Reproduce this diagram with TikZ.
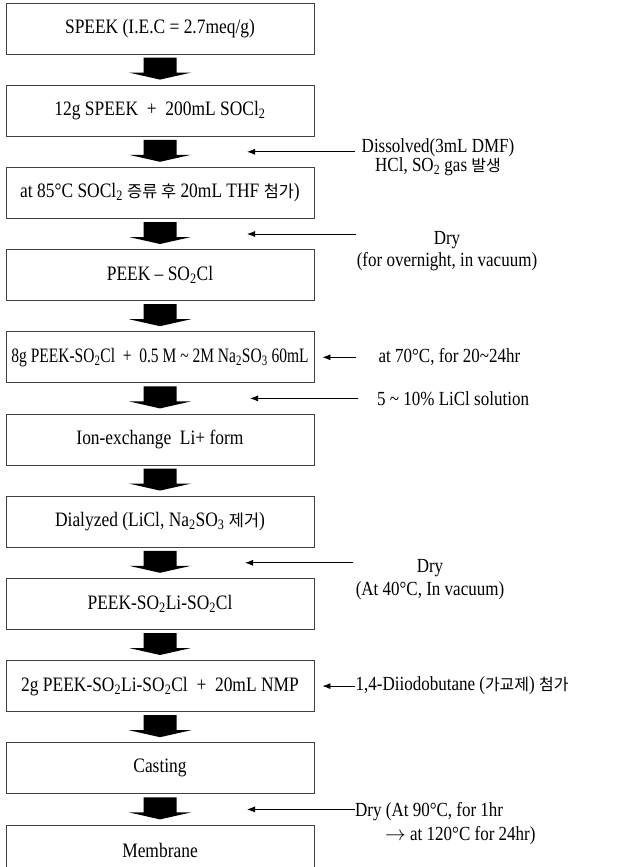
\documentclass[tikz,border=0pt]{standalone}
\usepackage{fontspec}
\setmainfont{Liberation Serif}[FakeStretch=0.85]
\newfontfamily\krfont{Noto Sans CJK KR}[Scale=0.8]
\usepackage{tikz}
\usetikzlibrary{arrows.meta,calc,positioning}

\newcommand{\kr}[1]{{\krfont #1}}
\newcommand{\sub}[1]{\textsubscript{#1}}

\tikzset{
stepbox/.style={draw=black!75, line width=0.9pt, minimum width=308pt,
  minimum height=51pt, inner sep=1pt, font=\fontsize{20.5}{22}\selectfont},
note/.style={font=\fontsize{20}{22}\selectfont, align=center, inner sep=0pt},
sidearrow/.style={line width=0.8pt, -{Latex[length=8pt,width=6pt]}},
downarrow/.pic={
  \fill[black] (-16.5,12) -- (16.5,12) -- (16.5,-3) -- (31,-3)
    -- (0,-10) -- (-31,-3) -- (-16.5,-3) -- cycle;
}
}

\begin{document}
\begin{tikzpicture}[x=1pt,y=1pt,node distance=30.3pt]
\useasboundingbox (0,0) rectangle (619,-867);

% process steps
\node[stepbox] (speek) at (160,-28.5) {SPEEK (I.E.C = 2.7meq/g)};
\node[stepbox, below=of speek] (mix) {12g SPEEK \ + \ 200mL SOCl\sub{2}};
\node[stepbox, below=of mix] (distil) {at 85\textdegree C SOCl\sub{2} \kr{증류 후} 20mL THF \kr{첨가})};
\node[stepbox, below=of distil] (sulfonyl) {PEEK -- SO\sub{2}Cl};
\node[stepbox, below=of sulfonyl] (reduce) {\scalebox{0.89}[1]{8g PEEK-SO\sub{2}Cl \ + \ 0.5 M \textasciitilde\ 2M Na\sub{2}SO\sub{3} 60mL}};
\node[stepbox, below=of reduce] (ionex) {Ion-exchange \ Li+ form};
\node[stepbox, below=of ionex] (dialyze) {Dialyzed (LiCl, Na\sub{2}SO\sub{3} \kr{제거})};
\node[stepbox, below=of dialyze] (lithium) {PEEK-SO\sub{2}Li-SO\sub{2}Cl};
\node[stepbox, below=of lithium] (solution) {2g PEEK-SO\sub{2}Li-SO\sub{2}Cl \ + \ 20mL NMP};
\node[stepbox, below=of solution] (casting) {Casting};
\node[stepbox, below=of casting] (membrane) {Membrane};

% block arrows between steps
\foreach \a/\b [count=\i] in {speek/mix, mix/distil, distil/sulfonyl,
    sulfonyl/reduce, reduce/ionex, ionex/dialyze, dialyze/lithium,
    lithium/solution, solution/casting, casting/membrane}{
  \coordinate (g\i) at ($(\a.south)!0.5!(\b.north)$);
  \pic at (g\i) {downarrow};
}

% conditions
\draw[sidearrow] ($(g2)+(195,0)$) -- ($(g2)+(87,0)$);
\node[note, anchor=north, font=\fontsize{20}{19}\selectfont] (dissolve) at ($(g2)+(278,13)$)
  {Dissolved(3mL DMF)\\HCl, SO\sub{2} gas \kr{발생}};

\draw[sidearrow] ($(g3)+(196,0)$) -- ($(g3)+(87,0)$);
\node[note, anchor=north] (dry1) at ($(g3)+(287,3)$)
  {Dry\\(for overnight, in vacuum)};

\draw[sidearrow] ($(reduce.east)+(42,0)$) -- ($(reduce.east)+(8,0)$);
\node[note, anchor=west] (heat) at ($(reduce.east)+(64,0)$)
  {at 70\textdegree C, for 20\textasciitilde 24hr};

\draw[sidearrow] ($(g5)+(198,0)$) -- ($(g5)+(90,0)$);
\node[note, anchor=west] (licl) at ($(g5)+(217,0)$)
  {5 \textasciitilde\ 10\% LiCl solution};

\draw[sidearrow] ($(g7)+(193,0)$) -- ($(g7)+(85,0)$);
\node[note, anchor=north, font=\fontsize{20}{23}\selectfont] (dry2) at ($(g7)+(270,4)$)
  {Dry\\(At 40\textdegree C, In vacuum)};

\node[note, anchor=west] (linker) at ($(solution.east)+(41,0)$)
  {1,4-Diiodobutane (\kr{가교제}) \kr{첨가}};
\draw[sidearrow] (linker.west) -- ($(solution.east)+(8,0)$);

\node[note, anchor=north west, align=left, font=\fontsize{20}{24}\selectfont] (dry3) at ($(g10)+(195,7)$)
  {Dry (At 90\textdegree C, for 1hr\\\hspace*{30pt}$\rightarrow$ at 120\textdegree C for 24hr)};
\draw[sidearrow] (dry3.north west |- g10) -- ($(g10)+(87,0)$);

\end{tikzpicture}
\end{document}
